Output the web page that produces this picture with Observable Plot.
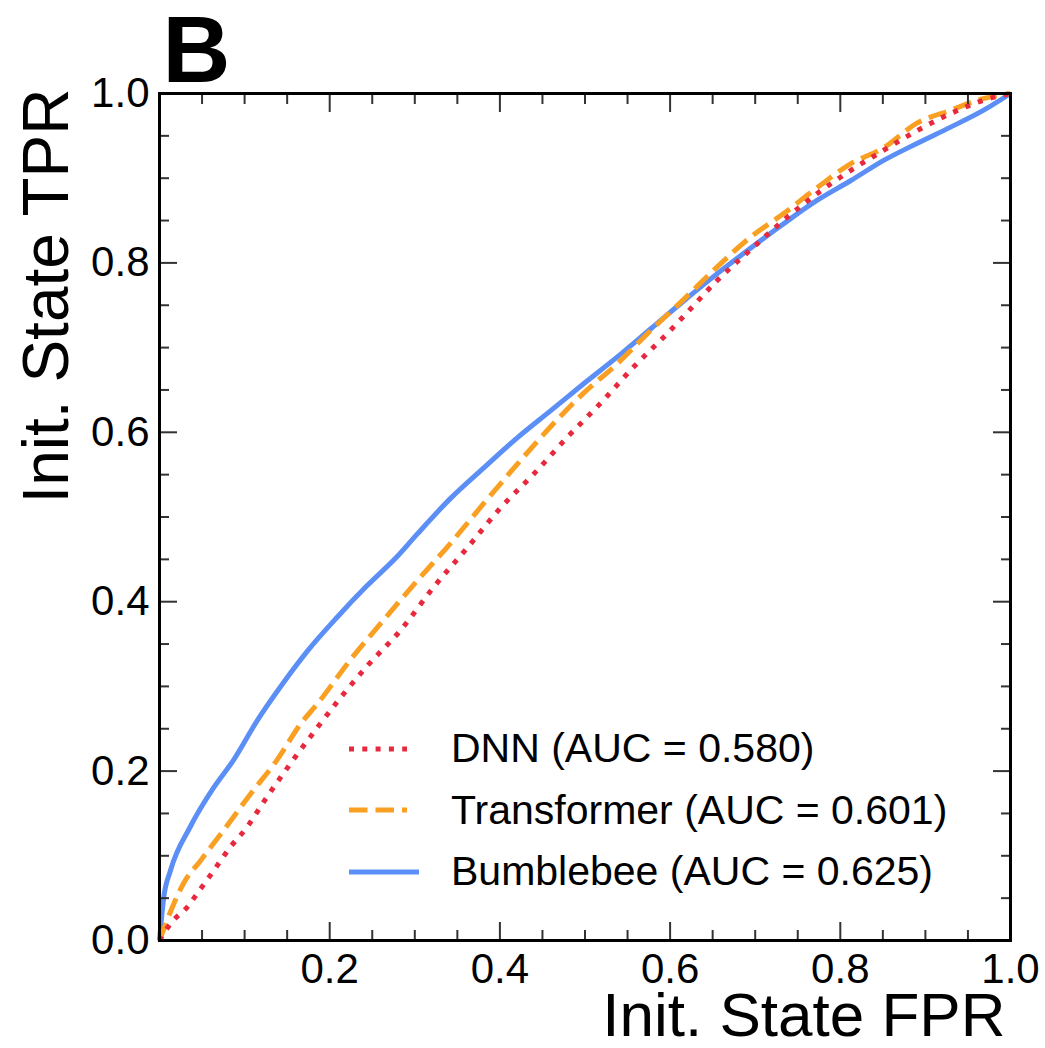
<!DOCTYPE html>
<html>
<head>
<meta charset="utf-8">
<script src="https://cdn.jsdelivr.net/npm/d3@7"></script>
<script src="https://cdn.jsdelivr.net/npm/@observablehq/plot@0.6"></script>
<style>
  html, body { margin: 0; padding: 0; background: #fff; }
  #wrap { position: relative; width: 1045px; height: 1048px; font-family: "Liberation Sans", Arial, sans-serif; }
  #legend { position: absolute; left: 345px; top: 718px; }
  .row { display: flex; align-items: center; height: 61.5px; }
  .row svg { width: 78px; height: 20px; margin-right: 28px; }
  .row span { font-size: 41px; color: #000; line-height: 1; }
</style>
</head>
<body>
<div id="wrap"></div>
<script>
// ROC curves (FPR, TPR)
const dnnFPR = [0, 0.013, 0.034, 0.044, 0.064, 0.083, 0.103, 0.122, 0.154, 0.186, 0.213, 0.244, 0.283, 0.322, 0.362, 0.401, 0.440, 0.479, 0.518, 0.557, 0.597, 0.616, 0.655, 0.694, 0.733, 0.773, 0.812, 0.851, 0.890, 0.929, 0.968, 1];
const dnnTPR = [0, 0.020, 0.041, 0.055, 0.083, 0.110, 0.134, 0.163, 0.209, 0.252, 0.287, 0.324, 0.366, 0.417, 0.464, 0.511, 0.551, 0.594, 0.634, 0.677, 0.717, 0.737, 0.779, 0.815, 0.850, 0.882, 0.909, 0.933, 0.956, 0.976, 0.992, 1];

const trfFPR = [0, 0.015, 0.028, 0.048, 0.076, 0.107, 0.138, 0.166, 0.186, 0.224, 0.263, 0.303, 0.342, 0.381, 0.421, 0.459, 0.498, 0.538, 0.577, 0.616, 0.655, 0.694, 0.733, 0.773, 0.812, 0.851, 0.890, 0.929, 0.968, 1];
const trfTPR = [0, 0.039, 0.067, 0.094, 0.131, 0.173, 0.213, 0.256, 0.280, 0.331, 0.378, 0.425, 0.469, 0.516, 0.563, 0.606, 0.646, 0.681, 0.720, 0.757, 0.795, 0.830, 0.858, 0.889, 0.917, 0.936, 0.965, 0.980, 0.994, 1];

const bbFPR = [0, 0.005, 0.013, 0.036, 0.064, 0.087, 0.115, 0.146, 0.174, 0.209, 0.244, 0.279, 0.303, 0.342, 0.381, 0.421, 0.459, 0.498, 0.538, 0.577, 0.616, 0.655, 0.694, 0.733, 0.773, 0.812, 0.851, 0.890, 0.929, 0.968, 1];
const bbTPR = [0, 0.051, 0.083, 0.134, 0.181, 0.213, 0.260, 0.305, 0.342, 0.382, 0.419, 0.453, 0.480, 0.522, 0.558, 0.594, 0.625, 0.657, 0.689, 0.722, 0.755, 0.787, 0.817, 0.846, 0.874, 0.897, 0.921, 0.941, 0.960, 0.980, 1];

const seriesNames = ["DNN", "Transformer", "Bumblebee"];
const seriesLabels = ["DNN (AUC = 0.580)", "Transformer (AUC = 0.601)", "Bumblebee (AUC = 0.625)"];
const seriesColors = ["#e8283c", "#f9a023", "#5b8ff5"];
const seriesDash = ["5,8.3", "18.5,8", null];

const xMajor = [0, 0.2, 0.4, 0.6, 0.8, 1.0];
const xLabels = [0.2, 0.4, 0.6, 0.8, 1.0];
const yMajor = [0, 0.2, 0.4, 0.6, 0.8, 1.0];
const minorTicks = [0.05, 0.1, 0.15, 0.25, 0.3, 0.35, 0.45, 0.5, 0.55, 0.65, 0.7, 0.75, 0.85, 0.9, 0.95];

const xTitle = "Init. State FPR";
const yTitle = "Init. State TPR";
const panel = "B";

const toRows = (xs, ys) => xs.map((x, i) => ({x, y: ys[i]}));
const curves = [toRows(dnnFPR, dnnTPR), toRows(trfFPR, trfTPR), toRows(bbFPR, bbTPR)];

const tickStroke = "#333";
const fmt = d => d.toFixed(1);

const curveMarks = curves.map((rows, i) => Plot.line(rows, {
  x: "x", y: "y", stroke: seriesColors[i], strokeWidth: 5,
  strokeDasharray: seriesDash[i], strokeLinecap: "butt", curve: "monotone-x"
})).reverse();

const chart = Plot.plot({
  width: 1045,
  height: 1048,
  marginLeft: 159,
  marginRight: 35,
  marginTop: 93,
  marginBottom: 108,
  style: {fontFamily: "Liberation Sans, Arial, sans-serif", background: "#fff"},
  x: {domain: [0, 1]},
  y: {domain: [0, 1]},
  marks: [
    ...curveMarks,
    // minor ticks (inward) on all sides
    Plot.axisX(minorTicks, {anchor: "bottom", tickSize: -10, text: null, label: null, stroke: tickStroke, strokeWidth: 2}),
    Plot.axisX(minorTicks, {anchor: "top", tickSize: -10, text: null, label: null, stroke: tickStroke, strokeWidth: 2}),
    Plot.axisY(minorTicks, {anchor: "left", tickSize: -10, text: null, label: null, stroke: tickStroke, strokeWidth: 2}),
    Plot.axisY(minorTicks, {anchor: "right", tickSize: -10, text: null, label: null, stroke: tickStroke, strokeWidth: 2}),
    // major ticks (inward)
    Plot.axisX(xMajor, {anchor: "bottom", tickSize: -18, text: null, label: null, stroke: tickStroke, strokeWidth: 2}),
    Plot.axisX(xMajor, {anchor: "top", tickSize: -18, text: null, label: null, stroke: tickStroke, strokeWidth: 2}),
    Plot.axisY(yMajor, {anchor: "left", tickSize: -18, text: null, label: null, stroke: tickStroke, strokeWidth: 2}),
    Plot.axisY(yMajor, {anchor: "right", tickSize: -18, text: null, label: null, stroke: tickStroke, strokeWidth: 2}),
    // tick labels
    Plot.axisX(xLabels, {anchor: "bottom", tickSize: 0, tickPadding: 13, tickFormat: fmt, label: null, fontSize: 42, fill: "#000"}),
    Plot.axisY(yMajor, {anchor: "left", tickSize: 0, tickPadding: 10, tickFormat: fmt, label: null, fontSize: 42, fill: "#000"}),
    Plot.frame({stroke: "#000", strokeWidth: 3}),
    // titles
    Plot.text([xTitle], {frameAnchor: "bottom-right", text: d => d, dx: -5, dy: 76, textAnchor: "end", lineAnchor: "middle", fontSize: 62, fill: "#000"}),
    Plot.text([yTitle], {frameAnchor: "top-left", text: d => d, rotate: -90, dx: -112, dy: -5, textAnchor: "end", lineAnchor: "middle", fontSize: 64, fill: "#000"}),
    Plot.text([panel], {frameAnchor: "top-left", text: d => d, dx: 3, dy: -42, textAnchor: "start", lineAnchor: "middle", fontSize: 94, fontWeight: "bold", fill: "#000"})
  ]
});

const wrap = document.getElementById("wrap");
wrap.appendChild(chart);

// Legend overlay
const legend = document.createElement("div");
legend.id = "legend";
seriesNames.forEach((name, i) => {
  const row = document.createElement("div");
  row.className = "row";
  const ns = "http://www.w3.org/2000/svg";
  const svg = document.createElementNS(ns, "svg");
  svg.setAttribute("viewBox", "0 0 78 20");
  const ln = document.createElementNS(ns, "line");
  ln.setAttribute("x1", 4); ln.setAttribute("x2", i === 2 ? 74 : 62);
  ln.setAttribute("y1", 10); ln.setAttribute("y2", 10);
  ln.setAttribute("stroke", seriesColors[i]);
  ln.setAttribute("stroke-width", 5);
  if (seriesDash[i]) ln.setAttribute("stroke-dasharray", seriesDash[i]);
  svg.appendChild(ln);
  const span = document.createElement("span");
  span.textContent = seriesLabels[i];
  row.appendChild(svg);
  row.appendChild(span);
  legend.appendChild(row);
});
wrap.appendChild(legend);
</script>
</body>
</html>
